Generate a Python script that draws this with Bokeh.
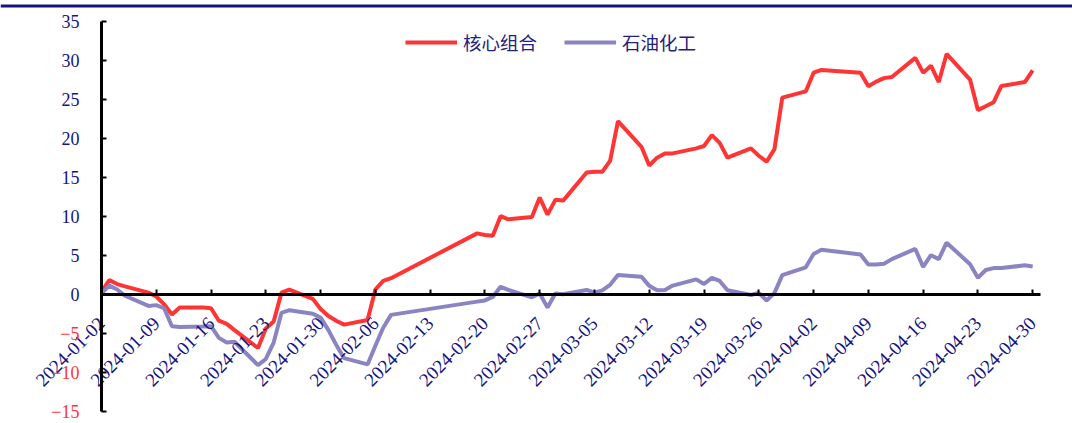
import math
import pandas as pd
from bokeh.plotting import figure
from bokeh.models import (ColumnDataSource, Range1d, FixedTicker, DatetimeTickFormatter,
                          Legend, LegendItem, CustomJSTickFormatter, LinearAxis, Span)
from bokeh.embed import file_html
from bokeh.resources import INLINE

# ---------------- data ----------------
dates = [
    "2024-01-02", "2024-01-03", "2024-01-04", "2024-01-05", "2024-01-08", "2024-01-09",
    "2024-01-10", "2024-01-11", "2024-01-12", "2024-01-15", "2024-01-16", "2024-01-17",
    "2024-01-18", "2024-01-19", "2024-01-22", "2024-01-23", "2024-01-24", "2024-01-25",
    "2024-01-26", "2024-01-29", "2024-01-30", "2024-01-31",
    "2024-02-01", "2024-02-02", "2024-02-05", "2024-02-06", "2024-02-07", "2024-02-08",
    "2024-02-19", "2024-02-20", "2024-02-21", "2024-02-22", "2024-02-23", "2024-02-26",
    "2024-02-27", "2024-02-28", "2024-02-29",
    "2024-03-01", "2024-03-04", "2024-03-05", "2024-03-06", "2024-03-07", "2024-03-08",
    "2024-03-11", "2024-03-12", "2024-03-13", "2024-03-14", "2024-03-15", "2024-03-18",
    "2024-03-19", "2024-03-20", "2024-03-21", "2024-03-22", "2024-03-25", "2024-03-26",
    "2024-03-27", "2024-03-28", "2024-03-29",
    "2024-04-01", "2024-04-02", "2024-04-03", "2024-04-08", "2024-04-09", "2024-04-10",
    "2024-04-11", "2024-04-12", "2024-04-15", "2024-04-16", "2024-04-17", "2024-04-18",
    "2024-04-19", "2024-04-22", "2024-04-23", "2024-04-24", "2024-04-25", "2024-04-26",
    "2024-04-29", "2024-04-30",
]

core = [
    0.3, 1.8, 1.3, 1.0, 0.2, -0.3, -1.3, -2.6, -1.7, -1.7, -1.8, -3.4,
    -3.8, -4.6, -6.9, -4.4, -3.5, 0.2, 0.6, -0.6, -1.9, -2.8,
    -3.4, -3.9, -3.3, 0.6, 1.7, 2.05, 7.8, 7.6, 7.5, 10.0, 9.6, 9.9, 12.4, 10.2, 12.1,
    12.0, 15.6, 15.7, 15.7, 17.1, 22.2, 18.9, 16.5, 17.5, 18.05, 18.05, 18.7, 19.0,
    20.4, 19.4, 17.5, 18.7, 17.75, 17.0, 18.6, 25.2,
    26.0, 28.4, 28.75, 28.4, 26.65, 27.25, 27.7, 27.85, 30.3, 28.4, 29.3, 27.2,
    30.8, 27.5, 23.6, 24.1, 24.6, 26.7, 27.2, 28.7,
]

petro = [
    0.1, 1.1, 0.6, -0.2, -1.5, -1.4, -1.8, -4.1, -4.2, -4.15, -4.1, -5.6,
    -6.2, -6.1, -9.1, -8.3, -6.2, -2.4, -2.05, -2.5, -3.0, -4.6,
    -6.5, -8.2, -9.0, -6.6, -4.3, -2.65, -0.95, -0.8, -0.35, 0.95, 0.55, -0.4, 0.1, -1.7, 0.1,
    0.0, 0.55, 0.2, 0.5, 1.2, 2.45, 2.25, 1.07, 0.5, 0.55, 1.1, 1.9, 1.3,
    2.1, 1.7, 0.5, -0.1, 0.15, -0.8, 0.15, 2.45,
    3.45, 5.15, 5.7, 5.1, 3.8, 3.8, 3.9, 4.5, 5.8, 3.5, 5.0, 4.5,
    6.6, 3.85, 2.1, 3.1, 3.35, 3.35, 3.7, 3.55,
]

series_names = ["核心组合", "石油化工"]
y_ticks_pos = [0, 5, 10, 15, 20, 25, 30, 35]
y_ticks_neg = [-15, -10, -5]
x_tick_dates = ["2024-01-02", "2024-01-09", "2024-01-16", "2024-01-23", "2024-01-30",
                "2024-02-06", "2024-02-13", "2024-02-20", "2024-02-27", "2024-03-05",
                "2024-03-12", "2024-03-19", "2024-03-26", "2024-04-02", "2024-04-09",
                "2024-04-16", "2024-04-23", "2024-04-30"]
axis_x_start, axis_x_end = "2024-01-02", "2024-05-01"
axis_y_min, axis_y_max = -15, 35

# ---------------- style / layout ----------------
RED = "#FF3535"
PURPLE = "#8A84C2"
NAVY = "#16137F"
TEXT_NAVY = "#22227A"
SERIF = "Liberation Serif"

W, H = 1072, 423               # canvas size
AXIS_LEFT_PX = 101.0           # y-axis position inside canvas
PX_PER_DAY = 7.825
AXIS_TOP_PX = 20.7             # y = 35 position inside canvas
PX_PER_UNIT = 7.8
TOP_RULE_PX = 5.5              # centre of the thick top rule
DAY_MS = 86400000.0

def ms(d):
    return (pd.Timestamp(d) - pd.Timestamp("1970-01-01")) / pd.Timedelta(milliseconds=1)

x0 = ms(axis_x_start)
x_lo = x0 - AXIS_LEFT_PX / PX_PER_DAY * DAY_MS
x_hi = x0 + (W - AXIS_LEFT_PX) / PX_PER_DAY * DAY_MS
y_hi = axis_y_max + AXIS_TOP_PX / PX_PER_UNIT
y_lo = y_hi - H / PX_PER_UNIT

src = ColumnDataSource(data=dict(x=pd.to_datetime(dates), core=core, petro=petro))

p = figure(width=W, height=H, x_axis_type="datetime",
           x_range=Range1d(x_lo, x_hi), y_range=Range1d(y_lo, y_hi),
           output_backend="svg", toolbar_location=None,
           min_border_left=0, min_border_right=0, min_border_top=0, min_border_bottom=0)
p.grid.visible = False
p.outline_line_color = None
p.background_fill_color = "white"
p.border_fill_color = "white"

# thick rule along the top edge
p.add_layout(Span(location=y_hi - TOP_RULE_PX / PX_PER_UNIT, dimension="width",
                  line_color=NAVY, line_width=3))

r1 = p.line("x", "core", source=src, line_color=RED, line_width=4)
r2 = p.line("x", "petro", source=src, line_color=PURPLE, line_width=4)

# x axis crossing at y = 0
xa = p.xaxis[0]
xa.fixed_location = 0
xa.bounds = (x0, ms(axis_x_end))
xa.ticker = FixedTicker(ticks=[ms(d) for d in x_tick_dates])
xa.formatter = DatetimeTickFormatter(days="%Y-%m-%d", months="%Y-%m-%d", years="%Y-%m-%d",
                                     hours="%Y-%m-%d", context=None)
xa.major_label_orientation = math.pi / 4
xa.major_label_text_font = SERIF
xa.major_label_text_font_size = "19px"
xa.major_label_text_color = NAVY
xa.major_label_standoff = 26
xa.major_tick_in = 5
xa.major_tick_out = 0
xa.minor_tick_line_color = None
xa.axis_line_width = 3
xa.major_tick_line_width = 2
xa.axis_line_color = "black"

# y axis at the first date (positive labels navy)
ya = p.yaxis[0]
ya.fixed_location = x0
ya.bounds = (axis_y_min, axis_y_max)
ya.ticker = FixedTicker(ticks=y_ticks_neg + y_ticks_pos)
ya.formatter = CustomJSTickFormatter(code="return tick < 0 ? '' : tick.toFixed(0);")
ya.major_label_text_font = SERIF
ya.major_label_text_font_size = "18px"
ya.major_label_text_color = NAVY
ya.major_label_standoff = 22
ya.major_tick_in = 5
ya.major_tick_out = 0
ya.minor_tick_line_color = None
ya.axis_line_width = 3
ya.major_tick_line_width = 2

# negative labels in red, on an overlaid axis at the same place
ya2 = LinearAxis(fixed_location=x0, ticker=FixedTicker(ticks=y_ticks_neg),
                 axis_line_color=None, major_tick_line_color=None, minor_tick_line_color=None,
                 major_tick_in=0, major_tick_out=0,
                 major_label_text_font=SERIF, major_label_text_font_size="18px",
                 major_label_text_color=RED, major_label_standoff=22)
p.add_layout(ya2, "left")

legend = Legend(items=[LegendItem(label=series_names[0], renderers=[r1]),
                       LegendItem(label=series_names[1], renderers=[r2])],
                orientation="horizontal", location=(405, 368),
                glyph_width=52, glyph_height=20, label_standoff=6, spacing=27,
                padding=0, margin=0, border_line_color=None, background_fill_alpha=0,
                label_text_font="Noto Sans CJK SC", label_text_font_size="18.5px",
                label_text_color=TEXT_NAVY)
p.add_layout(legend)

open("out.html", "w").write(file_html(p, INLINE))
